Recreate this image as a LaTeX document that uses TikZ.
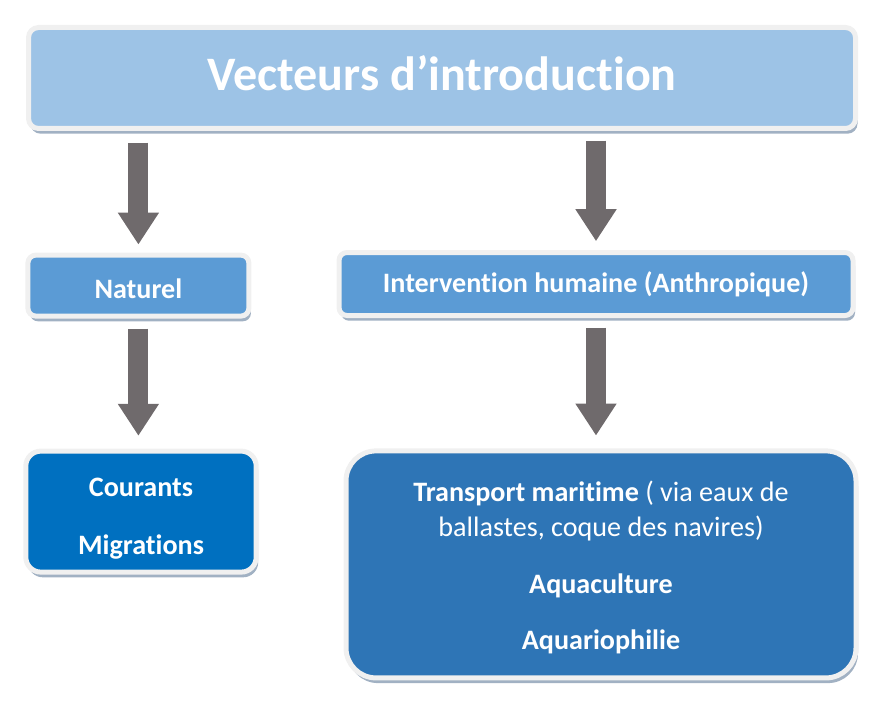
\documentclass[tikz,border=0pt]{standalone}
\usepackage{fontspec}
\setmainfont{Carlito}[Ligatures=NoCommon]
\usepackage{tikz}
\usetikzlibrary{arrows.meta,positioning,shadows}
\definecolor{titlefill}{HTML}{9DC3E6}
\definecolor{midfill}{HTML}{5B9BD5}
\definecolor{leaffill}{HTML}{0070C0}
\definecolor{leaffilltwo}{HTML}{2E75B6}
\definecolor{rim}{HTML}{F0F0F0}
\definecolor{shade}{HTML}{97A8BC}
\definecolor{arrowgrey}{HTML}{6F6A6C}
\tikzset{
  box/.style={draw=rim,line width=1.25mm,text=white,align=center,
              drop shadow={shadow xshift=.5mm,shadow yshift=-1.3mm,fill=shade,opacity=.9}},
  titlebox/.style={box,fill=titlefill,rounded corners=2.5mm,font=\fontsize{34.2}{40}\selectfont\bfseries},
  levelbox/.style={box,fill=midfill,rounded corners=2mm,font=\fontsize{20}{25}\selectfont\bfseries},
  leafbox/.style={box,rounded corners=3.75mm,font=\fontsize{20}{25}\selectfont},
  bigarrow/.style={draw=arrowgrey,line width=5mm,-{Triangle[length=8mm,width=9.75mm]}},
}
\begin{document}
\begin{tikzpicture}
  \useasboundingbox (0,0) rectangle (223.25mm,-179mm);
  \node[titlebox,minimum width=206.75mm,minimum height=25.25mm] (vect) at (110.5mm,-19.5mm)
      {\rule[-7pt]{0pt}{7pt}Vecteurs d’introduction};
  \node[levelbox,minimum width=55.25mm,minimum height=15.25mm] (nat) at (34.6mm,-71.4mm)
      {\rule{0pt}{18pt}Naturel};
  \node[levelbox,minimum width=128.5mm,minimum height=15.75mm] (hum) at (149mm,-71mm)
      {Intervention humaine (Anthropique)};
  \node[leafbox,fill=leaffill,minimum width=57.6mm,minimum height=30.25mm] (cour) at (35.25mm,-127.9mm)
      {\rule{0pt}{23pt}\textbf{Courants}\\[16pt]\textbf{Migrations}};
  \node[leafbox,fill=leaffilltwo,rounded corners=7.5mm,minimum width=127.5mm,minimum height=56.75mm] (trans)
      at (150.25mm,-141.1mm)
      {\rule{0pt}{19pt}\textbf{Transport maritime} ( via eaux de\\ballastes, coque des navires)\\[15.5pt]
       \textbf{Aquaculture}\\[15pt]\textbf{Aquariophilie}};
  \draw[bigarrow,shorten <=2.9mm,shorten >=2mm] (vect.south -| nat.north) -- (nat.north);
  \draw[bigarrow,shorten <=2.4mm,shorten >=2.2mm] (vect.south -| hum.north) -- (hum.north);
  \draw[bigarrow,shorten <=2.5mm,shorten >=3.2mm] (nat.south) -- (cour.north -| nat.south);
  \draw[bigarrow,shorten <=2.4mm,shorten >=3.2mm] (hum.south) -- (trans.north -| hum.south);
\end{tikzpicture}
\end{document}
